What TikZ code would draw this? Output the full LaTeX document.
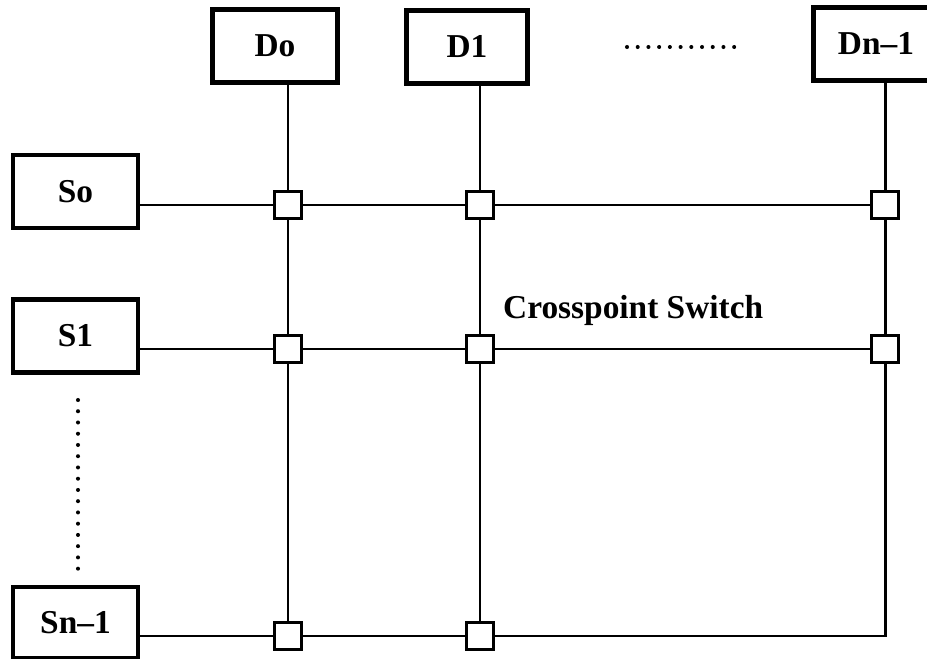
\documentclass[tikz,border=0pt]{standalone}
\usepackage{fontspec}
\setmainfont{Liberation Serif}
\usetikzlibrary{positioning}

\begin{document}
\begin{tikzpicture}[
  x=0.02cm, y=-0.02cm,
  port/.style={draw, line width=2.4pt, minimum width=2.5cm, minimum height=1.46cm,
               inner sep=0pt, font=\fontsize{19}{23}\selectfont\bfseries},
  xpt/.style={draw, line width=2.2pt, fill=white, minimum size=0.54cm, inner sep=0pt},
  wire/.style={line width=1.7pt},
  dotrow/.style={line width=2.3pt, line cap=round, dash pattern=on 0pt off 6.1pt}
]
\useasboundingbox (0,0) rectangle (927,659);

% input and output ports
\node[port] (d0) at (275,46) {Do};
\node[port, minimum width=2.42cm] (d1) at (467,47) {D1};
\node[port, minimum width=2.5cm] (dn) at (876,44) {Dn--1};
\node[port] (s0) at (75.5,191.5) {So};
\node[port] (s1) at (75.5,336) {S1};
\node[port, minimum height=1.42cm] (sn) at (75.5,622.5) {Sn--1};

% crosspoint positions
\coordinate (x00) at (288,205);
\coordinate (x01) at (480,205);
\coordinate (x02) at (885,205);
\coordinate (x10) at (288,349);
\coordinate (x11) at (480,349);
\coordinate (x12) at (885,349);
\coordinate (x20) at (288,636);
\coordinate (x21) at (480,636);
\coordinate (x22) at (885,636);

% wires
\draw[wire] (x00 |- d0.south) -- (x00) -- (x10) -- (x20);
\draw[wire] (x01 |- d1.south) -- (x01) -- (x11) -- (x21);
\draw[wire] (x02 |- dn.south) -- (x02) -- (x12);
\draw[wire] (s0.east |- x00) -- (x00) -- (x01) -- (x02);
\draw[wire] (s1.east |- x10) -- (x10) -- (x11) -- (x12);
\draw[wire] (sn.east |- x22) -- (x20) -- (x21) -- (x22) -- (x12);

% switches over the wires
\foreach \n in {x00,x01,x02,x10,x11,x12,x20,x21}
  \node[xpt] (sw-\n) at (\n) {};

\node[font=\fontsize{19}{23}\selectfont\bfseries, anchor=base west] (lbl) at (497,318) {Crosspoint Switch};

% ellipsis dots
\coordinate (hd1) at (627,47);
\coordinate (hd2) at (736,47);
\draw[dotrow] (hd1) -- (hd2);
\coordinate (vd1) at (78,400);
\coordinate (vd2) at (78,570);
\draw[dotrow, dash pattern=on 0pt off 6.4pt] (vd1) -- (vd2);
\end{tikzpicture}
\end{document}
